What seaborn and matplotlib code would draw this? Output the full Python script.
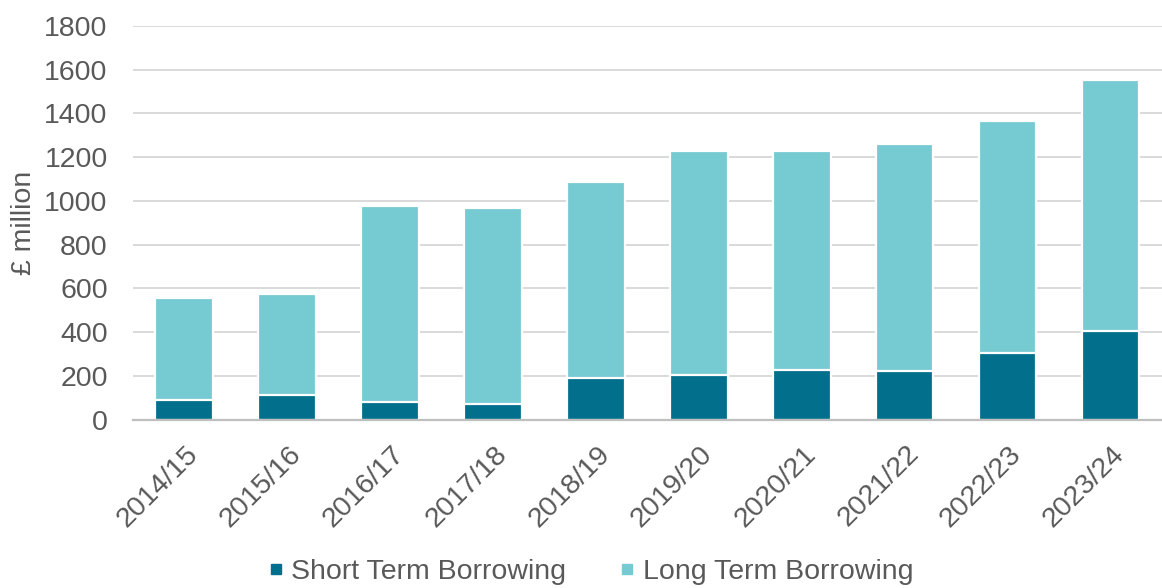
import seaborn as sns
import numpy as np
import pandas as pd
import matplotlib.pyplot as plt
from matplotlib.lines import Line2D
from matplotlib.transforms import ScaledTranslation

years = ["2014/15", "2015/16", "2016/17", "2017/18", "2018/19",
         "2019/20", "2020/21", "2021/22", "2022/23", "2023/24"]
short_term = [90, 112, 78, 72, 192, 205, 226, 220, 302, 405]
long_term = [466, 461, 899, 894, 895, 1023, 1002, 1042, 1062, 1146]

short_color = "#02708C"
long_color = "#75CBD1"
text_color = "#595959"

df = pd.DataFrame({"year": years, "short": short_term, "long": long_term})
df["total"] = df["short"] + df["long"]

sns.set_style("white")
plt.rcParams["font.family"] = ["Liberation Sans", "DejaVu Sans"]

fig = plt.figure(figsize=(11.62, 5.88), dpi=100)
ax = fig.add_axes([132.7 / 1162, 1 - 419.5 / 588, 1 - 132.7 / 1162, (419.5 - 26) / 588])

# long bar drawn as the full stack, short drawn over it
sns.barplot(data=df, x="year", y="total", color=long_color, saturation=1,
            width=0.56, edgecolor="white", linewidth=1.6, ax=ax)
sns.barplot(data=df, x="year", y="short", color=short_color, saturation=1,
            width=0.56, edgecolor="white", linewidth=1.6, ax=ax)

ax.set_ylim(0, 1800)
ax.set_yticks(np.arange(0, 1801, 200))
ax.set_xlim(-0.5, -0.5 + (1162 - 132.7) / 103.85)
ax.set_axisbelow(True)
ax.yaxis.grid(True, color="#d0d0d0", linewidth=1.1)

for s in ["top", "right", "left"]:
    ax.spines[s].set_visible(False)
ax.spines["bottom"].set_color("#bfbfbf")
ax.spines["bottom"].set_linewidth(1.6)

ax.set_xticks(np.arange(len(years)))
ax.set_xticks(np.arange(len(years) + 1) - 0.5, minor=True)
ax.tick_params(axis="x", which="major", length=0, pad=22)
ax.tick_params(axis="x", which="minor", length=6, width=1.5, color="#bfbfbf", direction="out")
ax.tick_params(axis="y", length=0, pad=18, labelsize=20.5, labelcolor=text_color)

ax.set_xticklabels(years, rotation=45, ha="right", va="center",
                   rotation_mode="anchor", fontsize=20.5, color=text_color)
offset = ScaledTranslation(10 / 100, 0, fig.dpi_scale_trans)
for lbl in ax.get_xticklabels():
    lbl.set_transform(lbl.get_transform() + offset)

ax.set_xlabel("")
ax.set_ylabel("£ million", fontsize=20.5, color=text_color, labelpad=5)

handles = [Line2D([], [], marker="s", linestyle="", markersize=7.5, color=short_color),
           Line2D([], [], marker="s", linestyle="", markersize=7.5, color=long_color)]
leg = fig.legend(handles, ["Short Term Borrowing", "Long Term Borrowing"],
                 loc="center", bbox_to_anchor=(591 / 1162, 1 - 572 / 588), ncol=2,
                 frameon=False, fontsize=20.5, handlelength=0.5, handletextpad=0.3,
                 columnspacing=1.9)
for t in leg.get_texts():
    t.set_color(text_color)

fig.savefig("out.png", dpi=100)
